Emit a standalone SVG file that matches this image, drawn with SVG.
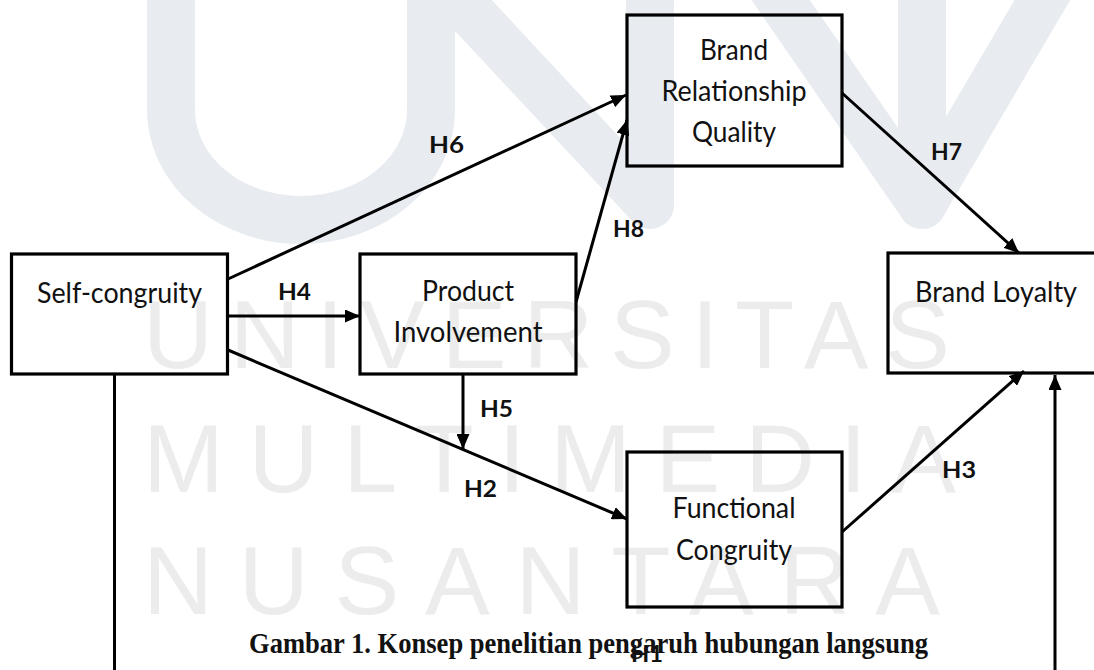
<svg xmlns="http://www.w3.org/2000/svg" width="1094" height="670" viewBox="0 0 1094 670">
<style>
.wm{font-family:"Liberation Sans",Arial,sans-serif;font-size:97px;fill:#ececec}
.logo{fill:none;stroke:#e8ecf1;stroke-width:48;stroke-linecap:round;stroke-linejoin:round}
.box{fill:none;stroke:#000;stroke-width:3.2}
.nt{font-family:Lato,"Open Sans",sans-serif;font-size:28px;fill:#111;text-anchor:middle}
.lb{font-family:Lato,"Open Sans",sans-serif;font-size:23px;font-weight:bold;fill:#111}
.cap{font-family:"Liberation Serif","Times New Roman",serif;font-size:29px;font-weight:bold;fill:#111}
.ln{fill:none;stroke:#000;stroke-width:3}
</style>
<defs>
<marker id="ah" viewBox="0 0 15 13" refX="15" refY="6.5" markerWidth="15" markerHeight="13" markerUnits="userSpaceOnUse" orient="auto">
<path d="M0,0 L15,6.5 L0,13 z" fill="#000"/>
</marker>
</defs>
<rect width="1094" height="670" fill="#fff"/>
<g id="watermark">
<path class="logo" d="M171,-30 V110 A130,110 0 0 0 431,110 V-30"/>
<path class="logo" d="M431,-30 L650,205 V-30"/>
<path class="logo" d="M760,-30 L922,205 V-30"/>
<path class="logo" d="M922,205 L1060,-30"/>
<text class="wm" x="143" y="368" textLength="807" lengthAdjust="spacing">UNIVERSITAS</text>
<text class="wm" x="143" y="492" textLength="813" lengthAdjust="spacing">MULTIMEDIA</text>
<text class="wm" x="143" y="614" textLength="797" lengthAdjust="spacing">NUSANTARA</text>
</g>
<g id="connectors">
<line class="ln" x1="228" y1="279" x2="626" y2="95" marker-end="url(#ah)"/>
<line class="ln" x1="228" y1="316" x2="360" y2="316" marker-end="url(#ah)"/>
<line class="ln" x1="228" y1="350" x2="627" y2="519" marker-end="url(#ah)"/>
<line class="ln" x1="576" y1="302" x2="627" y2="120" stroke-width="2.6" marker-end="url(#ah)"/>
<line class="ln" x1="463" y1="374" x2="463" y2="449" stroke-width="2.6" marker-end="url(#ah)"/>
<line class="ln" x1="842" y1="93" x2="1019" y2="253" marker-end="url(#ah)"/>
<line class="ln" x1="842" y1="532" x2="1024" y2="371" marker-end="url(#ah)"/>
<line class="ln" x1="114.5" y1="374" x2="114.5" y2="672"/>
<line class="ln" x1="1055" y1="672" x2="1055" y2="375" marker-end="url(#ah)"/>
<text class="lb" x="429" y="153" textLength="35" lengthAdjust="spacingAndGlyphs">H6</text>
<text class="lb" x="278" y="300" textLength="33" lengthAdjust="spacingAndGlyphs">H4</text>
<text class="lb" x="613" y="237" textLength="31" lengthAdjust="spacingAndGlyphs">H8</text>
<text class="lb" x="931" y="160" textLength="31" lengthAdjust="spacingAndGlyphs">H7</text>
<text class="lb" x="480" y="417" textLength="33" lengthAdjust="spacingAndGlyphs">H5</text>
<text class="lb" x="464" y="497" textLength="33" lengthAdjust="spacingAndGlyphs">H2</text>
<text class="lb" x="942" y="478" textLength="34" lengthAdjust="spacingAndGlyphs">H3</text>
</g>
<g id="self-congruity">
<rect class="box" x="11.5" y="254" width="216" height="120"/>
<text class="nt" x="119.5" y="303" textLength="165" lengthAdjust="spacingAndGlyphs">Self-congruity</text>
</g>
<g id="product-involvement">
<rect class="box" x="360" y="254" width="216" height="120"/>
<text class="nt" x="468" y="301" textLength="92" lengthAdjust="spacingAndGlyphs">Product</text>
<text class="nt" x="468" y="342" textLength="149" lengthAdjust="spacingAndGlyphs">Involvement</text>
</g>
<g id="brand-relationship-quality">
<rect class="box" x="627" y="15" width="215" height="151"/>
<text class="nt" x="734" y="60" textLength="68" lengthAdjust="spacingAndGlyphs">Brand</text>
<text class="nt" x="734" y="101" textLength="145" lengthAdjust="spacingAndGlyphs">Relationship</text>
<text class="nt" x="734" y="142" textLength="84" lengthAdjust="spacingAndGlyphs">Quality</text>
</g>
<g id="brand-loyalty">
<rect class="box" x="888" y="253" width="220" height="120"/>
<text class="nt" x="996" y="302" textLength="162" lengthAdjust="spacingAndGlyphs">Brand Loyalty</text>
</g>
<g id="functional-congruity">
<rect class="box" x="627" y="452" width="215" height="155"/>
<text class="nt" x="734" y="518" textLength="123" lengthAdjust="spacingAndGlyphs">Functional</text>
<text class="nt" x="734" y="560" textLength="116" lengthAdjust="spacingAndGlyphs">Congruity</text>
</g>
<g id="caption">
<text class="cap" x="249" y="653" textLength="679" lengthAdjust="spacingAndGlyphs">Gambar 1. Konsep penelitian pengaruh hubungan langsung</text>
<text class="lb" x="631" y="662" textLength="32" lengthAdjust="spacingAndGlyphs">H1</text>
</g>
</svg>
